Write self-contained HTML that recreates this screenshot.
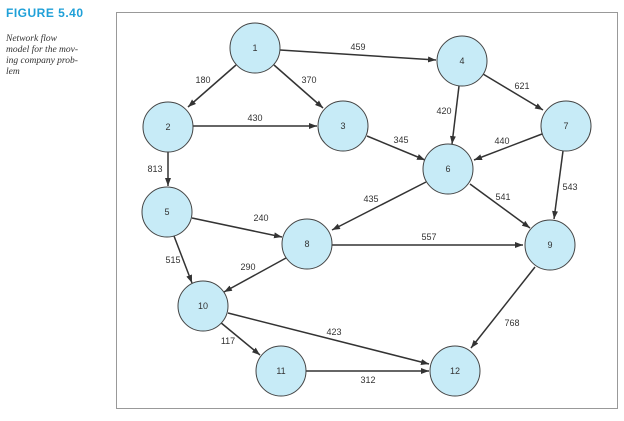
<!DOCTYPE html>
<html><head><style>
body{margin:0;background:#fff;width:624px;height:416px;overflow:hidden}
</style></head><body>
<svg width="624" height="416" xmlns="http://www.w3.org/2000/svg">
<defs><marker id="a" markerWidth="8" markerHeight="6" refX="8" refY="3" orient="auto" markerUnits="userSpaceOnUse"><path d="M0,0 L8,3 L0,6 z" fill="#333"/></marker></defs>
<text x="6" y="17" font-family="Liberation Sans,sans-serif" font-weight="bold" font-size="12" fill="#1fa0d8" letter-spacing="0.5">FIGURE 5.40</text>
<g font-family="Liberation Serif,serif" font-style="italic" font-size="9.5" fill="#333">
<text x="6" y="41">Network flow</text><text x="6" y="52">model for the mov-</text><text x="6" y="63">ing company prob-</text><text x="6" y="74">lem</text></g>
<rect x="116.5" y="12.5" width="501" height="396" fill="none" stroke="#999" stroke-width="1"/>
<g stroke="#333" stroke-width="1.5" marker-end="url(#a)">
<line x1="236" y1="65" x2="188" y2="107"/>
<line x1="274" y1="65" x2="323" y2="108"/>
<line x1="280" y1="50" x2="436" y2="60"/>
<line x1="193" y1="126" x2="317" y2="126"/>
<line x1="168" y1="152" x2="168" y2="186"/>
<line x1="367" y1="136" x2="425" y2="160"/>
<line x1="459" y1="86" x2="452" y2="144"/>
<line x1="483" y1="74" x2="543" y2="110"/>
<line x1="542" y1="134" x2="474" y2="160"/>
<line x1="563" y1="151" x2="554" y2="219"/>
<line x1="426" y1="182" x2="332" y2="230"/>
<line x1="470" y1="184" x2="530" y2="228"/>
<line x1="192" y1="218" x2="282" y2="237"/>
<line x1="174" y1="236" x2="192" y2="283"/>
<line x1="332" y1="245" x2="523" y2="245"/>
<line x1="286" y1="258" x2="224" y2="292"/>
<line x1="535" y1="267" x2="471" y2="348"/>
<line x1="228" y1="313" x2="429" y2="364"/>
<line x1="220" y1="322" x2="260" y2="355"/>
<line x1="306" y1="371" x2="429" y2="371"/>
</g>
<g fill="#c7ebf7" stroke="#444" stroke-width="1">
<circle cx="255" cy="48" r="25"/><circle cx="168" cy="127" r="25"/><circle cx="343" cy="126" r="25"/>
<circle cx="462" cy="61" r="25"/><circle cx="167" cy="212" r="25"/><circle cx="448" cy="169" r="25"/>
<circle cx="566" cy="126" r="25"/><circle cx="307" cy="244" r="25"/><circle cx="550" cy="245" r="25"/>
<circle cx="203" cy="306" r="25"/><circle cx="281" cy="371" r="25"/><circle cx="455" cy="371" r="25"/>
</g>
<g font-family="Liberation Sans,sans-serif" font-size="9" fill="#333" text-anchor="middle">
<text x="255" y="51">1</text><text x="168" y="130">2</text><text x="343" y="129">3</text><text x="462" y="64">4</text>
<text x="167" y="215">5</text><text x="448" y="172">6</text><text x="566" y="129">7</text><text x="307" y="247">8</text>
<text x="550" y="248">9</text><text x="203" y="309">10</text><text x="281" y="374">11</text><text x="455" y="374">12</text>
<text x="203" y="83">180</text><text x="309" y="83">370</text><text x="358" y="50">459</text><text x="255" y="121">430</text>
<text x="155" y="172">813</text><text x="401" y="143">345</text><text x="444" y="114">420</text><text x="522" y="89">621</text>
<text x="502" y="144">440</text><text x="570" y="190">543</text><text x="371" y="202">435</text><text x="503" y="200">541</text>
<text x="261" y="221">240</text><text x="429" y="240">557</text><text x="173" y="263">515</text><text x="248" y="270">290</text>
<text x="512" y="326">768</text><text x="334" y="335">423</text><text x="228" y="344">117</text><text x="368" y="383">312</text>
</g>
</svg>
</body></html>
